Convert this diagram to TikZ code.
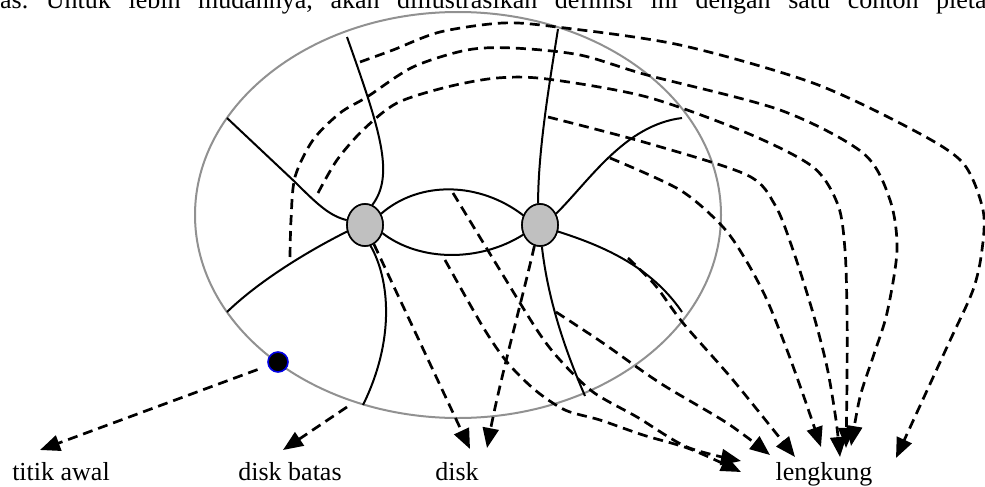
\documentclass[tikz,border=0pt]{standalone}
\usepackage{fontspec}
\setmainfont{Liberation Serif}
\usetikzlibrary{shapes.geometric,arrows.meta}
\definecolor{vgray}{RGB}{192,192,192}
\definecolor{egray}{RGB}{145,145,145}
\definecolor{dotblue}{RGB}{0,0,230}
\begin{document}
\begin{tikzpicture}[x=1pt,y=-1pt,
  vtx/.style={ellipse, draw=black, fill=vgray, line width=1.6pt, minimum width=36pt, minimum height=42pt, inner sep=0pt},
  startdot/.style={circle, fill=black, draw=dotblue, line width=1.6pt, minimum size=20pt, inner sep=0pt},
  sl/.style={line width=2pt},
  dsh/.style={line width=2.7pt, dash pattern=on 10pt off 6pt, -{Triangle[length=20pt,width=16pt]}},
  lbl/.style={font=\fontsize{26}{30}\selectfont, anchor=base, inner sep=0pt},
  ring/.style={draw=egray, line width=2pt}
]
\useasboundingbox (0,0) rectangle (985,487);
\begin{scope}
\clip (0,0) rectangle (985,487);
\node[anchor=base west, inner sep=0pt, font=\fontsize{26}{30}\selectfont] (toptxt) at (0,8.5)
  {\spaceskip=17.6pt\xspaceskip=17.6pt as. Untuk lebih mudahnya, akan diilustrasikan definisi ini dengan satu contoh pieta};
\end{scope}

% boundary disk
\draw[ring] (458,215) ellipse [x radius=263pt, y radius=203pt];

% vertices
\node[vtx] (L) at (365,225) {};
\node[vtx] (R) at (540,225) {};
\node[startdot] (dot) at (278,362) {};

% endpoints on the boundary
\coordinate (e1) at (347,37);
\coordinate (e2) at (227,118);
\coordinate (e4) at (227,312);
\coordinate (e5) at (363,405);
\coordinate (e6) at (558,29);
\coordinate (e7) at (682,118);
\coordinate (e8) at (682,312);
\coordinate (e9) at (585,396);

% dashed starts
\coordinate (sD1) at (360,62);
\coordinate (sD2) at (290,257);
\coordinate (sD3) at (318,193);
\coordinate (sD4) at (548,117);
\coordinate (sD5) at (610,158);
\coordinate (sA) at (453,193);
\coordinate (sB) at (445,260);
\coordinate (sC) at (556,312);
\coordinate (sD) at (628,258);
\coordinate (sDB) at (347,407);

% tips
\coordinate (tT) at (40,450);
\coordinate (tDB) at (283,450);
\coordinate (tK1) at (470,449);
\coordinate (tK2) at (487,448);
\coordinate (tA) at (741,461);
\coordinate (tB) at (741,472);
\coordinate (tC) at (770,455);
\coordinate (tD) at (795,457);
\coordinate (tD5) at (821,447);
\coordinate (tD4) at (840,457);
\coordinate (tD3) at (846,448);
\coordinate (tD2) at (851,446);
\coordinate (tD1) at (896,458);

% solid edges
\draw[sl] (e1) .. controls (380,130) and (395,175) .. (L.70);
\draw[sl] (e2) -- (295,182) .. controls (318,205) and (330,216) .. (L.165);
\draw[sl] (L.35) .. controls (420,180) and (480,182) .. (R.150);
\draw[sl] (L.200) .. controls (310,250) and (260,280) .. (e4);
\draw[sl] (L.-75) .. controls (390,280) and (395,340) .. (e5);
\draw[sl] (L.-25) .. controls (420,262) and (480,262) .. (R.-150);
\draw[sl] (R.95) .. controls (538,150) and (550,80) .. (e6);
\draw[sl] (R.35) .. controls (590,180) and (625,125) .. (e7);
\draw[sl] (R.-20) .. controls (600,245) and (650,265) .. (e8);
\draw[sl] (R.-85) .. controls (548,300) and (565,350) .. (e9);

% dashed arrows
\draw[dsh, shorten <=11pt] (dot) -- (tT);
\draw[dsh] (sDB) -- (tDB);
\draw[dsh] (L.-65) -- (tK1);
\draw[dsh] (R.-105) .. controls (522,300) and (500,380) .. (tK2);
\draw[dsh] plot[smooth] coordinates {(sA) (495,262) (537,330) (560,360) (593,392) (637,417) (687,447) (tA)};
\draw[dsh] plot[smooth] coordinates {(sB) (483,327) (507,362) (535,390) (565,410) (600,420) (643,435) (690,449) (tB)};
\draw[dsh] plot[smooth] coordinates {(sC) (603,343) (660,383) (727,423) (tC)};
\draw[dsh] plot[smooth] coordinates {(sD) (655,285) (683,323) (733,380) (tD)};
\draw[dsh] plot[smooth] coordinates {(sD5) (680,190) (723,227) (747,262) (767,300) (787,350) (805,400) (tD5)};
\draw[dsh] plot[smooth] coordinates {(sD4) (647,143) (747,175) (775,205) (793,250) (813,313) (827,367) (836,420) (tD4)};
\draw[dsh] plot[smooth] coordinates {(sD3) (337,160) (363,130) (397,103) (447,87) (497,78) (547,79) (647,97) (747,133) (813,167) (838,205) (845,250) (847,313) (847,380) (tD3)};
\draw[dsh] plot[smooth] coordinates {(sD2) (291,220) (295,177) (313,140) (340,113) (367,97) (413,67) (467,50) (513,48) (580,55) (647,75) (780,110) (863,153) (890,200) (897,250) (887,313) (873,357) (860,397) (tD2)};
\draw[dsh] plot[smooth] coordinates {(sD1) (393,50) (440,32) (503,23) (557,27) (680,45) (813,83) (913,130) (963,163) (983,210) (982,250) (973,290) (947,347) (tD1)};

% redraw vertices on top
\node[vtx] at (L) {};
\node[vtx] at (R) {};

% labels
\node[lbl] (ltitik) at (61,480) {titik awal};
\node[lbl] (ldb) at (290,480) {disk batas};
\node[lbl] (ldisk) at (457,480) {disk};
\node[lbl] (lleng) at (824,480) {lengkung};
\end{tikzpicture}
\end{document}
